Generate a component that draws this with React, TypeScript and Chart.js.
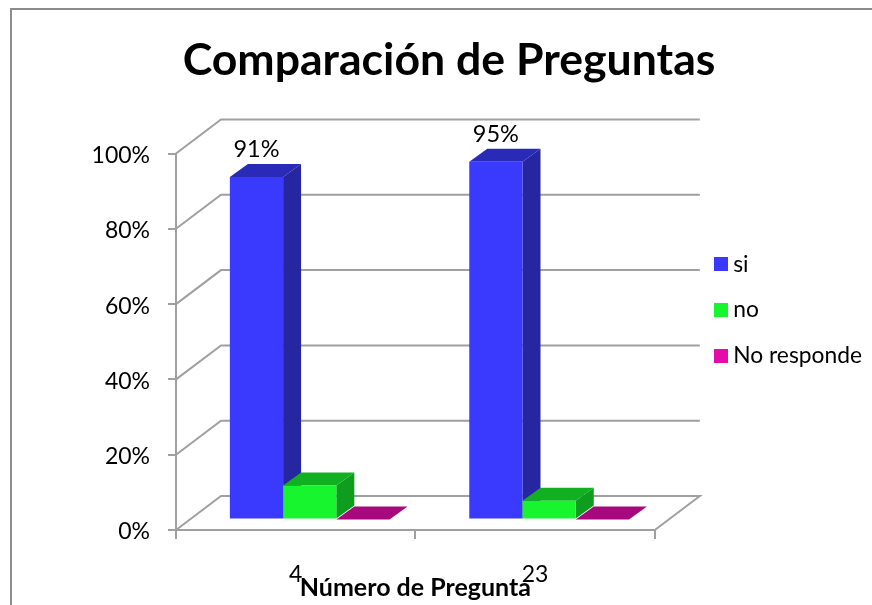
import React, { useEffect, useRef } from "react";
import { Chart, registerables } from "chart.js";

Chart.register(...registerables);

const categories = ["4", "23"];
const siValues = [91, 95];
const noValues = [9, 5];
const noRespondeValues = [0, 0];
const yTickStep = 20;

const FONT = "Lato, sans-serif";
const GRID = "#a0a0a0";

// Oblique projection of the floor: full depth of the box, and the slab a bar occupies in it.
const DEPTH = { x: 45, y: -34 };
const BAR_FRONT = { x: 14, y: -10.5 };
const BAR_BACK = { x: 32, y: -23.5 };

const faces = [
  { front: "#3a3aff", side: "#2626a0", top: "#2a2ab8" },
  { front: "#16f52e", side: "#0e9d1e", top: "#10b020" },
  { front: "#e40ca8", side: "#a8087e", top: "#a8087e" },
];

function poly(ctx: CanvasRenderingContext2D, pts: number[][], fill: string) {
  ctx.fillStyle = fill;
  ctx.beginPath();
  pts.forEach(([x, y], i) => (i ? ctx.lineTo(x, y) : ctx.moveTo(x, y)));
  ctx.closePath();
  ctx.fill();
}

// Legend marker: a bitmap point style lets the label sit closer than the default gap.
function swatch(color: string) {
  const c = document.createElement("canvas");
  c.width = 14;
  c.height = 14;
  const g = c.getContext("2d")!;
  g.fillStyle = color;
  g.fillRect(0, 0, 14, 14);
  return c;
}

const box3d = {
  id: "box3d",
  beforeDraw(chart: any) {
    // Outer frame of the chart object; only its top and left edges are in view.
    const { ctx } = chart;
    ctx.save();
    ctx.strokeStyle = "#8c8c8c";
    ctx.lineWidth = 2;
    ctx.beginPath();
    ctx.moveTo(11, 605);
    ctx.lineTo(11, 9);
    ctx.lineTo(872, 9);
    ctx.stroke();
    ctx.restore();
  },
  beforeDatasetsDraw(chart: any) {
    // Side wall, back wall and floor edges, one polyline per y tick.
    const { ctx, scales } = chart;
    const { left, right } = chart.chartArea;
    ctx.save();
    ctx.strokeStyle = GRID;
    ctx.lineWidth = 2;
    scales.y.ticks.forEach((t: any) => {
      const y = scales.y.getPixelForValue(t.value);
      ctx.beginPath();
      ctx.moveTo(left, y);
      ctx.lineTo(left + DEPTH.x, y + DEPTH.y);
      ctx.lineTo(right + DEPTH.x, y + DEPTH.y);
      if (t.value === 0) ctx.lineTo(right, y);
      ctx.stroke();
    });
    ctx.restore();
  },
  beforeDatasetDraw() {
    // Bars are painted together below so the series stack front to back in order.
    return false;
  },
  afterDatasetsDraw(chart: any) {
    const { ctx } = chart;
    chart.data.datasets.forEach((ds: any, di: number) => {
      const c = faces[di];
      chart.getDatasetMeta(di).data.forEach((bar: any, i: number) => {
        const l = bar.x - bar.width / 2 + BAR_FRONT.x;
        const r = bar.x + bar.width / 2 + BAR_FRONT.x;
        const t = bar.y + BAR_FRONT.y;
        const b = bar.base + BAR_FRONT.y;
        const ox = BAR_BACK.x - BAR_FRONT.x;
        const oy = BAR_BACK.y - BAR_FRONT.y;
        if (b - t > 0.5) {
          poly(ctx, [[r, t], [r + ox, t + oy], [r + ox, b + oy], [r, b]], c.side);
        }
        poly(ctx, [[l, t], [l + ox, t + oy], [r + ox, t + oy], [r, t]], c.top);
        ctx.save();
        ctx.translate(BAR_FRONT.x, BAR_FRONT.y);
        bar.draw(ctx);
        ctx.restore();
        if (di === 0) {
          ctx.save();
          ctx.fillStyle = "#000";
          ctx.font = `23.5px ${FONT}`;
          ctx.textAlign = "center";
          ctx.textBaseline = "middle";
          ctx.fillText(`${ds.data[i]}%`, (l + r) / 2, t + oy - 14);
          ctx.restore();
        }
      });
    });
  },
};

export default function App() {
  const ref = useRef<HTMLCanvasElement>(null);

  useEffect(() => {
    const chart = new Chart(ref.current!, {
      type: "bar",
      data: {
        labels: categories,
        datasets: [
          { label: "si", data: siValues, backgroundColor: faces[0].front },
          { label: "no", data: noValues, backgroundColor: faces[1].front },
          { label: "No responde", data: noRespondeValues, backgroundColor: faces[2].front },
        ],
      },
      plugins: [box3d],
      options: {
        responsive: false,
        animation: false,
        layout: { padding: { left: 26, top: 15, right: 0, bottom: 0 } },
        datasets: { bar: { barPercentage: 1, categoryPercentage: 0.667, borderWidth: 0 } },
        plugins: {
          tooltip: { enabled: false },
          title: {
            display: true,
            text: "Comparación de Preguntas",
            color: "#000",
            font: { family: FONT, size: 44.6, weight: "bold", lineHeight: 1.2 },
            padding: { top: 19, bottom: 66 },
          },
          legend: {
            position: "right",
            maxWidth: 300,
            labels: {
              color: "#000",
              usePointStyle: true,
              pointStyleWidth: 2,
              boxHeight: 14,
              padding: 23,
              font: { family: FONT, size: 22.8 },
              generateLabels: (c: any) =>
                c.data.datasets.map((ds: any, i: number) => ({
                  text: ds.label,
                  fontColor: "#000",
                  pointStyle: swatch(ds.backgroundColor),
                  datasetIndex: i,
                  lineWidth: 0,
                })),
            },
          },
        },
        scales: {
          x: {
            offset: true,
            grid: { drawOnChartArea: false, color: GRID, lineWidth: 2, tickLength: 9, offset: true },
            border: { color: GRID, width: 2 },
            ticks: { color: "#000", font: { family: FONT, size: 23 }, padding: 22, maxRotation: 0 },
            title: {
              display: true,
              text: "Número de Pregunta",
              color: "#000",
              font: { family: FONT, size: 25, weight: "bold" },
              padding: { top: 0, bottom: 2 },
            },
            afterFit: (s: any) => { s.height = 75; },
          },
          y: {
            min: 0,
            max: 100,
            grid: { drawOnChartArea: false, color: GRID, lineWidth: 2, tickLength: 8 },
            border: { color: GRID, width: 2 },
            ticks: {
              stepSize: yTickStep,
              color: "#000",
              font: { family: FONT, size: 23 },
              padding: 18,
              labelOffset: 2,
              callback: (v: any) => `${v}%`,
            },
            afterFit: (s: any) => { s.width = 150; },
          },
          // Empty axis that keeps room for the projected depth left of the legend.
          gap: {
            position: "right",
            display: true,
            grid: { display: false },
            border: { display: false },
            ticks: { display: false },
            afterFit: (s: any) => { s.width = 42; },
          },
        },
      },
    } as any);
    return () => chart.destroy();
  }, []);

  return (
    <canvas
      ref={ref}
      width={872}
      height={605}
      style={{ position: "absolute", left: 0, top: 0, display: "block" }}
    />
  );
}
